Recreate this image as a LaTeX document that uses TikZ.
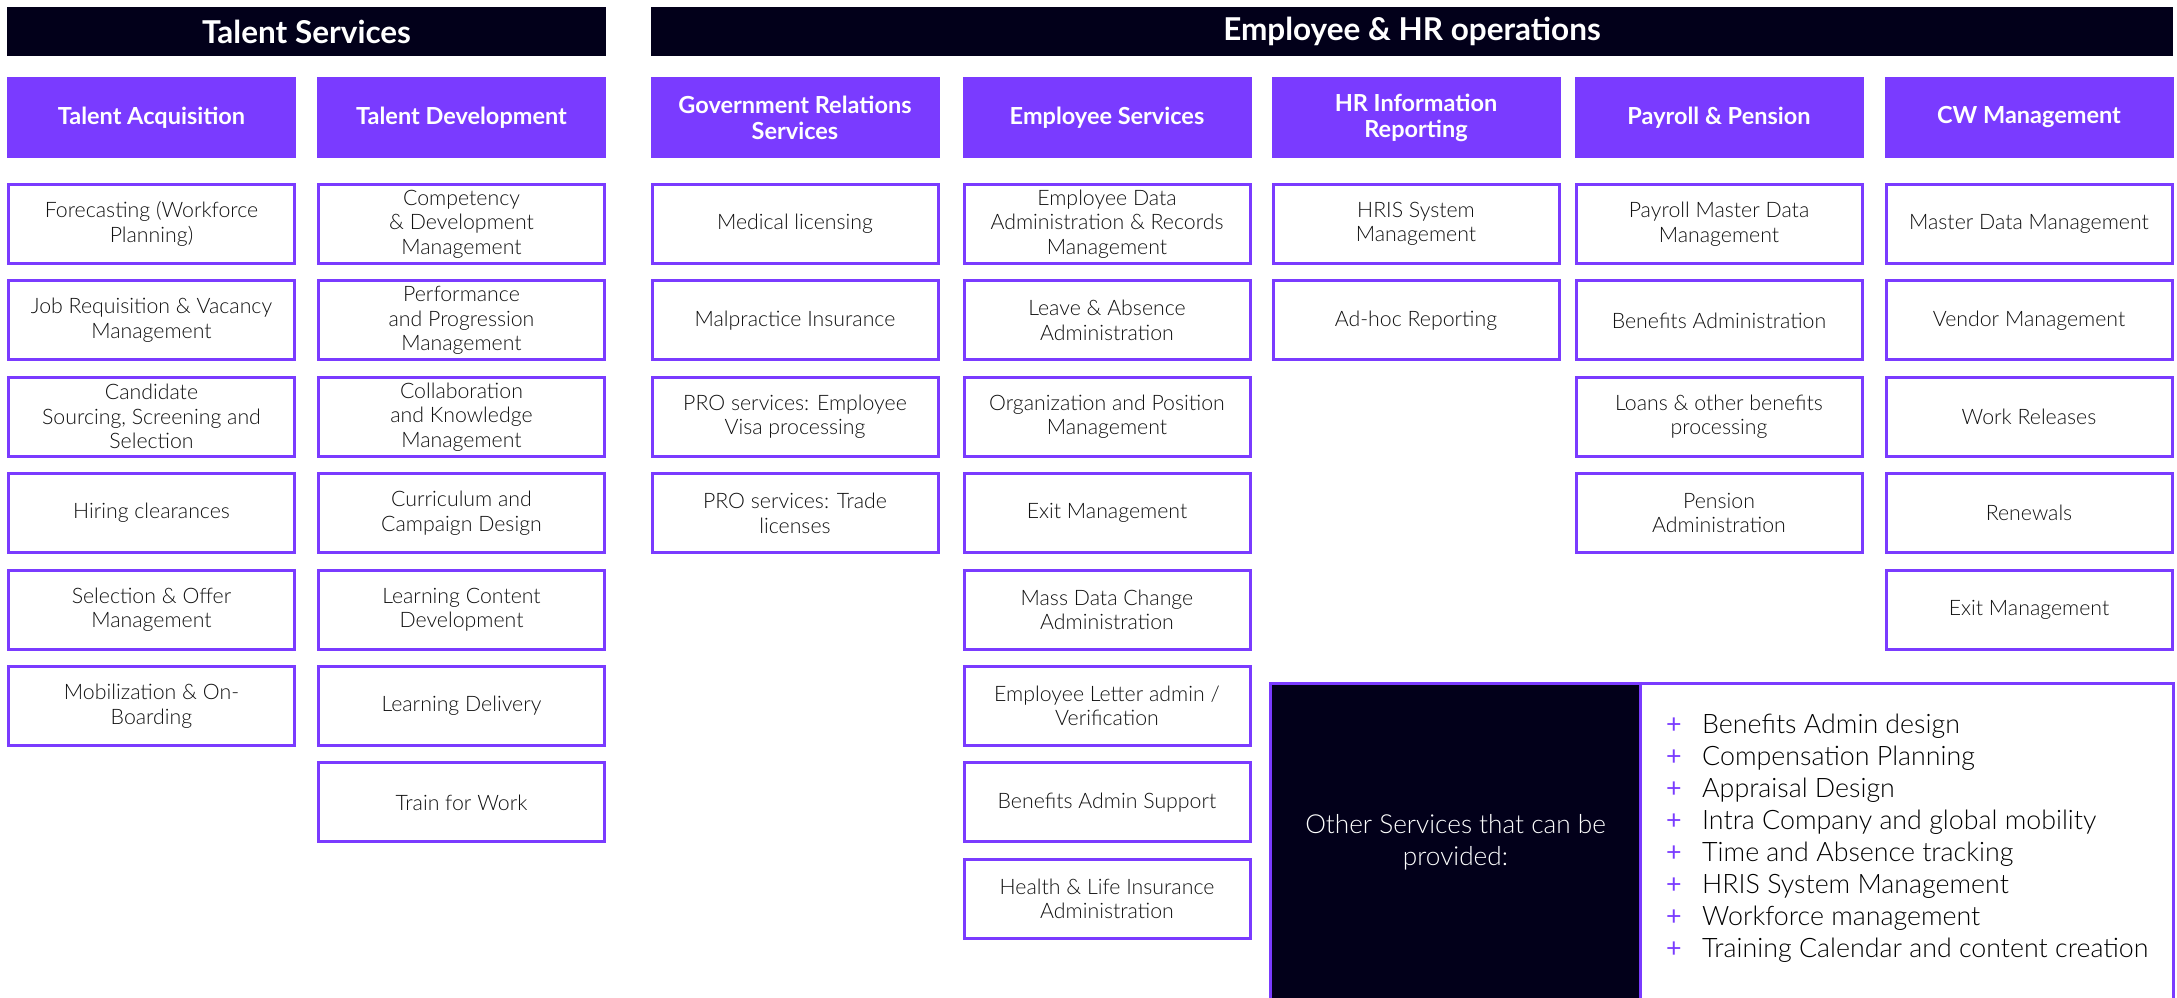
\documentclass[tikz,border=0pt]{standalone}
\usepackage{fontspec}
\setmainfont{Lato}[UprightFont=* Light, BoldFont=* Bold]
\newfontfamily\plusfont{Lato}
\definecolor{ppl}{RGB}{122,59,255}
\definecolor{navy}{RGB}{2,0,26}
\definecolor{txt}{RGB}{17,17,17}
\tikzset{
  bar/.style={fill=navy, text=white, font=\fontsize{31.5}{36}\selectfont\bfseries, minimum height=49pt, inner sep=0pt},
  head/.style={fill=ppl, text=white, font=\fontsize{23.5}{26}\selectfont\bfseries, minimum width=289pt, minimum height=81pt, align=center, inner sep=0pt},
  item/.style={draw=ppl, line width=3pt, fill=white, text=txt, font=\fontsize{21.3}{24.5}\selectfont, minimum width=286pt, minimum height=79pt, align=center, inner sep=0pt},
  panel/.style={minimum height=316pt, inner sep=0pt},
}
\newcommand{\plusitem}[1]{\makebox[36pt][l]{\plusfont\textcolor{ppl}{+}}#1}
\begin{document}
\begin{tikzpicture}[x=1pt,y=-1pt]
\useasboundingbox (0,0) rectangle (2177,997);
% title bars
\node[bar, minimum width=599pt] (ts) at (306.5,31.5) {Talent Services};
\node[bar, minimum width=1522pt] (eh) at (1412,31.5) {Employee \& HR operations};
% headers
\node[head] (hta) at (151.5,117.5) {Talent Acquisition};
\node[head] (htd) at (461.5,117.5) {Talent Development};
\node[head] (hgr) at (795,117.5) {Government Relations\\Services};
\node[head] (hes) at (1107,117.5) {Employee Services};
\node[head] (hhr) at (1416,117.5) {HR Information\\Reporting};
\node[head] (hpp) at (1719,117.5) {Payroll \& Pension};
\node[head] (hcw) at (2029,117.5) {CW Management};
% Talent Acquisition
\node[item] (ta1) at (151.5,224) {Forecasting (Workforce\\Planning)};
\node[item] (ta2) at (151.5,320.4) {Job Requisition \& Vacancy\\Management};
\node[item] (ta3) at (151.5,416.8) {Candidate\\Sourcing, Screening and\\Selection};
\node[item] (ta4) at (151.5,513.2) {Hiring clearances};
\node[item] (ta5) at (151.5,609.6) {Selection \& Offer\\Management};
\node[item] (ta6) at (151.5,706) {Mobilization \& On-\\Boarding};
% Talent Development
\node[item] (td1) at (461.5,224) {Competency\\\& Development\\Management};
\node[item] (td2) at (461.5,320.4) {Performance\\and Progression\\Management};
\node[item] (td3) at (461.5,416.8) {Collaboration\\and Knowledge\\Management};
\node[item] (td4) at (461.5,513.2) {Curriculum and\\Campaign Design};
\node[item] (td5) at (461.5,609.6) {Learning Content\\Development};
\node[item] (td6) at (461.5,706) {Learning Delivery};
\node[item] (td7) at (461.5,802.4) {Train for Work};
% Government Relations
\node[item] (gr1) at (795,224) {Medical licensing};
\node[item] (gr2) at (795,320.4) {Malpractice Insurance};
\node[item] (gr3) at (795,416.8) {PRO services: Employee\\Visa processing};
\node[item] (gr4) at (795,513.2) {PRO services: Trade\\licenses};
% Employee Services
\node[item] (es1) at (1107,224) {Employee Data\\Administration \& Records\\Management};
\node[item] (es2) at (1107,320.4) {Leave \& Absence\\Administration};
\node[item] (es3) at (1107,416.8) {Organization and Position\\Management};
\node[item] (es4) at (1107,513.2) {Exit Management};
\node[item] (es5) at (1107,609.6) {Mass Data Change\\Administration};
\node[item] (es6) at (1107,706) {Employee Letter admin /\\Verification};
\node[item] (es7) at (1107,802.4) {Benefits Admin Support};
\node[item] (es8) at (1107,898.8) {Health \& Life Insurance\\Administration};
% HR Information Reporting
\node[item] (hr1) at (1416,224) {HRIS System\\Management};
\node[item] (hr2) at (1416,320.4) {Ad-hoc Reporting};
% Payroll & Pension
\node[item] (pp1) at (1719,224) {Payroll Master Data\\Management};
\node[item] (pp2) at (1719,320.4) {Benefits Administration};
\node[item] (pp3) at (1719,416.8) {Loans \& other benefits\\processing};
\node[item] (pp4) at (1719,513.2) {Pension\\Administration};
% CW Management
\node[item] (cw1) at (2029,224) {Master Data Management};
\node[item] (cw2) at (2029,320.4) {Vendor Management};
\node[item] (cw3) at (2029,416.8) {Work Releases};
\node[item] (cw4) at (2029,513.2) {Renewals};
\node[item] (cw5) at (2029,609.6) {Exit Management};
% Other services panel
\node[panel, fill=navy, minimum width=369pt, text=white, align=center, font=\fontsize{26.2}{32}\selectfont] (otherl) at (1455.5,842) {Other Services that can be\\provided:};
\node[panel, fill=white, minimum width=533pt] (otherr) at (1906.5,842) {};
\draw[ppl, line width=3pt] (otherl.south west) -- (otherl.north west) -- (otherr.north east) -- (otherr.south east);
\draw[ppl, line width=3pt] (otherl.north east) -- (otherl.south east);
\node[anchor=west, align=left, inner sep=0pt, text=black, font=\fontsize{26.8}{32}\selectfont] (list) at (1666,838) {%
\plusitem{Benefits Admin design}\\
\plusitem{Compensation Planning}\\
\plusitem{Appraisal Design}\\
\plusitem{Intra Company and global mobility}\\
\plusitem{Time and Absence tracking}\\
\plusitem{HRIS System Management}\\
\plusitem{Workforce management}\\
\plusitem{Training Calendar and content creation}};
\end{tikzpicture}
\end{document}
